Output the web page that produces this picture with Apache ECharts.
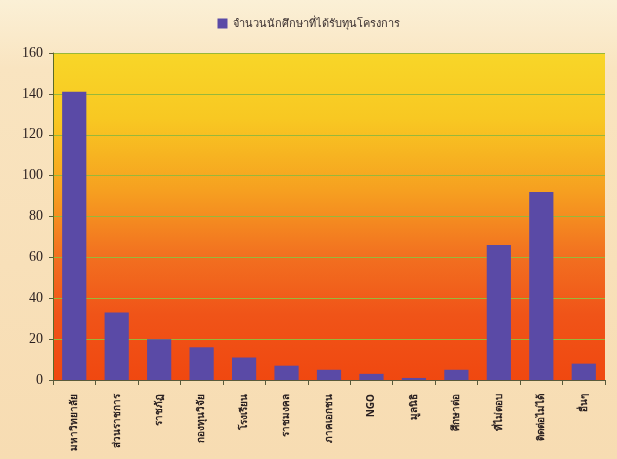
<!DOCTYPE html>
<html>
<head>
<meta charset="utf-8">
<script src="https://cdn.jsdelivr.net/npm/echarts@6/dist/echarts.min.js"></script>
<style>
  html, body { margin: 0; padding: 0; }
  #chart { width: 617px; height: 459px; }
</style>
</head>
<body>
<div id="chart"></div>
<script>
// Recipient groups and counts of funded students
const categories = ['มหาวิทยาลัย', 'ส่วนราชการ', 'ราชภัฏ', 'กองทุนวิจัย', 'โรงเรียน', 'ราชมงคล',
  'ภาคเอกชน', 'NGO', 'มูลนิธิ', 'ศึกษาต่อ', 'ที่ไม่ตอบ', 'ติดต่อไม่ได้', 'อื่นๆ'];
const students = [141, 33, 20, 16, 11, 7, 5, 3, 1, 5, 66, 92, 8];
const seriesName = 'จำนวนนักศึกษาที่ได้รับทุนโครงการ';
const yTicks = { min: 0, max: 160, interval: 20 };

const chart = echarts.init(document.getElementById('chart'));
chart.setOption({
  animation: false,
  backgroundColor: new echarts.graphic.LinearGradient(0, 0, 0, 1, [
    { offset: 0, color: '#fbf0d6' },
    { offset: 0.15, color: '#f9e4c0' },
    { offset: 1, color: '#f7dcb2' }
  ]),
  legend: {
    data: [seriesName],
    top: 13,
    left: 'center',
    itemWidth: 10,
    itemHeight: 10,
    icon: 'rect',
    textStyle: { fontSize: 11, color: '#3a3030', fontFamily: 'Noto Sans, sans-serif' }
  },
  grid: { left: 53, right: 12, top: 53, bottom: 79, show: true, borderWidth: 0,
    backgroundColor: new echarts.graphic.LinearGradient(0, 0, 0, 1, [
      { offset: 0, color: '#f8d628' },
      { offset: 0.2, color: '#f8c822' },
      { offset: 0.42, color: '#f6a020' },
      { offset: 0.62, color: '#f27020' },
      { offset: 0.8, color: '#f05418' },
      { offset: 1, color: '#f04810' }
    ])
  },
  xAxis: {
    type: 'category',
    data: categories,
    axisLine: { lineStyle: { color: '#5a5a3a', width: 1 } },
    axisTick: { show: true, length: 5, lineStyle: { color: '#5a5a3a' } },
    axisLabel: {
      rotate: 90,
      margin: 14,
      fontSize: 10,
      fontWeight: 'bold',
      color: '#2a2020',
      interval: 0,
      fontFamily: 'Noto Sans, sans-serif'
    }
  },
  yAxis: {
    type: 'value',
    min: yTicks.min,
    max: yTicks.max,
    interval: yTicks.interval,
    axisLine: { show: true, lineStyle: { color: '#5a6a2a', width: 1 } },
    axisTick: { show: true, length: 4, lineStyle: { color: '#5a5a3a' } },
    axisLabel: { fontSize: 14, color: '#2a2020', fontFamily: 'Liberation Serif, serif', margin: 10 },
    splitLine: { show: true, lineStyle: { color: '#98b83a', width: 1 } }
  },
  series: [{
    name: seriesName,
    type: 'bar',
    data: students,
    barWidth: '57%',
    itemStyle: { color: '#5a4aa6' }
  }]
});
</script>
</body>
</html>
